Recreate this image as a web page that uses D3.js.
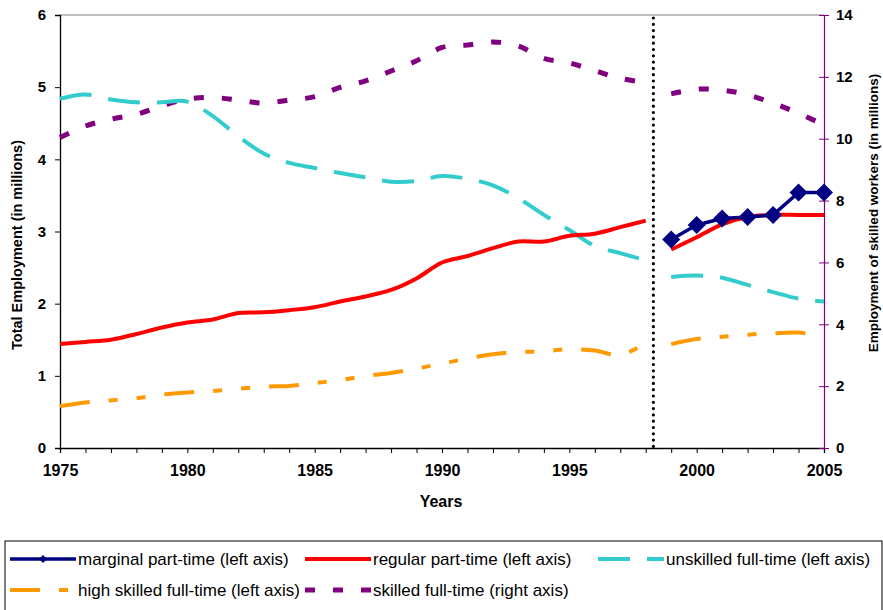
<!DOCTYPE html>
<html>
<head>
<meta charset="utf-8">
<script src="https://cdn.jsdelivr.net/npm/d3@7"></script>
<style>
  body { margin: 0; background: #fff; }
  svg text { font-family: "Liberation Sans", Arial, sans-serif; fill: #000; }
</style>
</head>
<body>
<svg id="chart"></svg>
<script>
const w = 883;
const h = 610;
const plot = { left: 60, right: 824, top: 15, bottom: 448 };

// data
const yearsPre = [1975, 1976, 1977, 1978, 1979, 1980, 1981, 1982, 1983, 1984, 1985, 1986,
  1987, 1988, 1989, 1990, 1991, 1992, 1993, 1994, 1995, 1996, 1997, 1998];
const yearsPost = [1999, 2000, 2001, 2002, 2003, 2004, 2005];
const breakYear = 1998.3;
const yearLabels = [1975, 1980, 1985, 1990, 1995, 2000, 2005];
const leftTicks = [0, 1, 2, 3, 4, 5, 6];
const rightTicks = [0, 2, 4, 6, 8, 10, 12, 14];

const marginalPost = [2.89, 3.09, 3.18, 3.20, 3.23, 3.54, 3.54];
const regularPre = [1.44, 1.47, 1.50, 1.58, 1.67, 1.74, 1.78, 1.87, 1.88, 1.91, 1.95, 2.03,
  2.10, 2.19, 2.35, 2.57, 2.66, 2.77, 2.86, 2.86, 2.94, 2.97, 3.06, 3.15];
const regularPost = [2.75, 2.92, 3.10, 3.20, 3.23, 3.23, 3.23];
const unskilledPre = [4.84, 4.90, 4.83, 4.79, 4.79, 4.80, 4.60, 4.32, 4.08, 3.95, 3.88, 3.81,
  3.75, 3.69, 3.70, 3.77, 3.73, 3.64, 3.46, 3.23, 3.02, 2.80, 2.70, 2.60];
const unskilledPost = [2.37, 2.39, 2.36, 2.26, 2.16, 2.07, 2.03];
const highPre = [0.58, 0.63, 0.66, 0.69, 0.74, 0.77, 0.79, 0.82, 0.85, 0.86, 0.90, 0.94,
  1.00, 1.04, 1.10, 1.17, 1.24, 1.30, 1.33, 1.34, 1.37, 1.35, 1.29, 1.45];
const highPost = [1.44, 1.51, 1.54, 1.57, 1.59, 1.60, 1.55];
const skilledPre = [10.04, 10.41, 10.63, 10.79, 11.06, 11.28, 11.33, 11.25, 11.15, 11.25, 11.36, 11.66,
  11.87, 12.19, 12.52, 12.95, 13.03, 13.13, 13.00, 12.60, 12.45, 12.20, 11.95, 11.82];
const skilledPost = [11.45, 11.60, 11.57, 11.42, 11.15, 10.82, 10.45];

const legendLabels = [
  "marginal part-time (left axis)",
  "regular part-time (left axis)",
  "unskilled full-time (left axis)",
  "high skilled full-time (left axis)",
  "skilled full-time (right axis)"
];

// styles
const styles = {
  marginal: { color: "#000080", width: 3.5, dash: null },
  regular: { color: "#ff0000", width: 4, dash: null },
  unskilled: { color: "#33cccc", width: 4, dash: "32 17" },
  high: { color: "#ff9900", width: 4, dash: "30 19 9 19 9 19" },
  skilled: { color: "#800080", width: 5, dash: "10 18" }
};

const svg = d3.select("#chart")
  .attr("width", w)
  .attr("height", h);

const x = d3.scaleLinear()
  .domain([1975, 2005])
  .range([plot.left, plot.right]);

const yLeft = d3.scaleLinear()
  .domain([0, 6])
  .range([plot.bottom, plot.top]);

const yRight = d3.scaleLinear()
  .domain([0, 14])
  .range([plot.bottom, plot.top]);

// top border of plot area
svg.append("line")
  .attr("x1", plot.left).attr("x2", plot.right)
  .attr("y1", plot.top).attr("y2", plot.top)
  .attr("stroke", "#808080").attr("stroke-width", 1);

// axes
const xAxis = d3.axisBottom(x)
  .tickValues(d3.range(1975, 2006))
  .tickFormat(d => yearLabels.includes(d) ? d : "")
  .tickSize(5)
  .tickPadding(12);

svg.append("g")
  .attr("transform", `translate(0, ${plot.bottom})`)
  .call(xAxis)
  .call(g => g.select(".domain").attr("stroke", "#000").attr("stroke-width", 1.3))
  .call(g => g.selectAll("line").attr("stroke", "#000"))
  .call(g => g.selectAll("text").attr("font-size", 16).attr("font-weight", "bold"));

svg.append("g")
  .attr("transform", `translate(${plot.left}, 0)`)
  .call(d3.axisLeft(yLeft).tickValues(leftTicks).tickFormat(d3.format("d")).tickSize(5).tickPadding(9))
  .call(g => g.select(".domain").attr("stroke", "#000").attr("stroke-width", 1.3))
  .call(g => g.selectAll("line").attr("stroke", "#000"))
  .call(g => g.selectAll("text").attr("font-size", 15).attr("font-weight", "bold"));

svg.append("g")
  .attr("transform", `translate(${plot.right}, 0)`)
  .call(d3.axisRight(yRight).tickValues(rightTicks).tickSize(5).tickPadding(7))
  .call(g => g.select(".domain").attr("stroke", "#800080").attr("stroke-width", 1.2))
  .call(g => g.selectAll(".tick line").attr("x1", -5).attr("stroke", "#800080"))
  .call(g => g.selectAll("text").attr("font-size", 15).attr("font-weight", "bold"));

// axis titles
svg.append("text")
  .attr("transform", `translate(17, 245) rotate(-90)`)
  .attr("text-anchor", "middle")
  .attr("dominant-baseline", "central")
  .attr("font-size", 14.5)
  .attr("font-weight", "bold")
  .text("Total Employment (in millions)");

svg.append("text")
  .attr("transform", `translate(873, 213) rotate(-90)`)
  .attr("text-anchor", "middle")
  .attr("dominant-baseline", "central")
  .attr("font-size", 13.5)
  .attr("font-weight", "bold")
  .text("Employment of skilled workers (in millions)");

svg.append("text")
  .attr("x", 441).attr("y", 501)
  .attr("text-anchor", "middle")
  .attr("dominant-baseline", "central")
  .attr("font-size", 16)
  .attr("font-weight", "bold")
  .text("Years");

// series
const lineFor = (years, scale, curved) => d3.line()
  .x((d, i) => x(years[i]))
  .y(d => scale(d))
  .curve(curved ? d3.curveCardinal.tension(0) : d3.curveLinear);

function drawLine(values, years, scale, st, curved) {
  svg.append("path")
    .datum(values)
    .attr("fill", "none")
    .attr("stroke", st.color)
    .attr("stroke-width", st.width)
    .attr("stroke-dasharray", st.dash)
    .attr("stroke-linejoin", "round")
    .attr("d", lineFor(years, scale, curved));
}

drawLine(skilledPre, yearsPre, yRight, styles.skilled, true);
drawLine(skilledPost, yearsPost, yRight, styles.skilled, true);
drawLine(highPre, yearsPre, yLeft, styles.high, true);
drawLine(highPost, yearsPost, yLeft, styles.high, true);
drawLine(unskilledPre, yearsPre, yLeft, styles.unskilled, true);
drawLine(unskilledPost, yearsPost, yLeft, styles.unskilled, true);
drawLine(regularPre, yearsPre, yLeft, styles.regular, true);
drawLine(regularPost, yearsPost, yLeft, styles.regular, true);
drawLine(marginalPost, yearsPost, yLeft, styles.marginal, false);

const diamond = r => `M0,${-r}L${r},0L0,${r}L${-r},0Z`;

svg.append("g")
  .selectAll("path")
  .data(marginalPost)
  .enter()
  .append("path")
  .attr("transform", (d, i) => `translate(${x(yearsPost[i])}, ${yLeft(d)})`)
  .attr("d", diamond(9))
  .attr("fill", styles.marginal.color);

// break marker
svg.append("line")
  .attr("x1", x(breakYear)).attr("x2", x(breakYear))
  .attr("y1", plot.top + 3).attr("y2", plot.bottom + 4)
  .attr("stroke", "#000")
  .attr("stroke-width", 3.2)
  .attr("stroke-linecap", "round")
  .attr("stroke-dasharray", "0 6.3");

// legend
const legend = svg.append("g");
legend.append("rect")
  .attr("x", 5).attr("y", 541)
  .attr("width", 877).attr("height", 90)
  .attr("fill", "none")
  .attr("stroke", "#000")
  .attr("stroke-width", 1);

const legendKeys = ["marginal", "regular", "unskilled", "high", "skilled"];
const colX = [10, 305, 598];
const rowY = [559, 590];

legendKeys.forEach((key, i) => {
  const st = styles[key];
  const lx = colX[i % 3];
  const ly = rowY[Math.floor(i / 3)];
  const item = legend.append("g").attr("transform", `translate(${lx}, ${ly})`);
  item.append("line")
    .attr("x1", 0).attr("x2", 66)
    .attr("stroke", st.color)
    .attr("stroke-width", st.width)
    .attr("stroke-dasharray", st.dash);
  if (key === "marginal") {
    item.append("path")
      .attr("transform", "translate(33, 0)")
      .attr("d", diamond(4))
      .attr("fill", st.color);
  }
  item.append("text")
    .attr("x", 68)
    .attr("dominant-baseline", "central")
    .attr("font-size", 17)
    .text(legendLabels[i]);
});
</script>
</body>
</html>
